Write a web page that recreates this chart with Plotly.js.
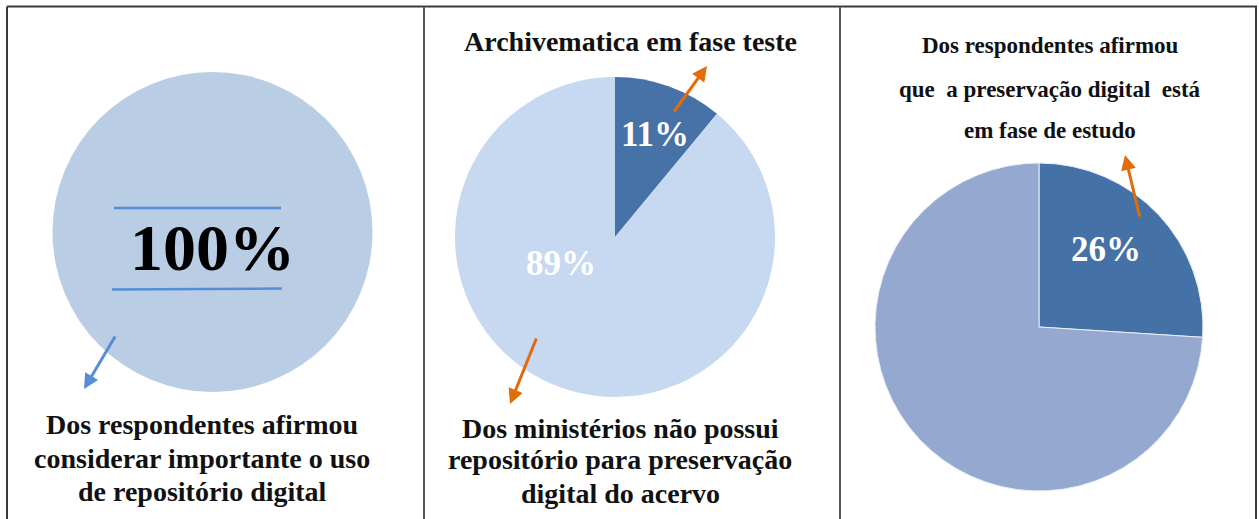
<!DOCTYPE html>
<html>
<head>
<meta charset="utf-8">
<script src="https://cdn.plot.ly/plotly-3.0.1.min.js"></script>
<style>html,body{margin:0;padding:0;background:#fff;}#chart{width:1259px;height:519px;}</style>
</head>
<body>
<div id="chart"></div>
<script>
// ---- data ----
const pie1Labels = ["Considera importante"];
const pie1Values = [100];
const pie2Labels = ["Archivematica em fase teste", "Não possui repositório"];
const pie2Values = [11, 89];
const pie3Labels = ["Em fase de estudo", "Outros"];
const pie3Values = [26, 74];
const text1 = ["Dos respondentes afirmou", "considerar importante o uso", "de repositório digital"];
const title2 = "Archivematica em fase teste";
const text2 = ["Dos ministérios não possui", "repositório para preservação", "digital do acervo"];
const title3 = ["Dos respondentes afirmou", "que  a preservação digital  está", "em fase de estudo"];

const W = 1259, H = 519;
const px = x => x / W;
const py = y => 1 - y / H;
const dom = (cx, cy, r) => ({x: [px(cx - r), px(cx + r)], y: [py(cy + r), py(cy - r)]});
const serif = "'Liberation Serif', 'DejaVu Serif', serif";

const traces = [
  {type: "pie", labels: pie1Labels, values: pie1Values, sort: false, direction: "clockwise",
   marker: {colors: ["#B9CDE5"], line: {width: 0}}, textinfo: "none", hoverinfo: "none",
   domain: dom(212.5, 232, 160), showlegend: false},
  {type: "pie", labels: pie2Labels, values: pie2Values, sort: false, direction: "clockwise", rotation: 0,
   marker: {colors: ["#4672A8", "#C6D9F1"], line: {width: 0}}, textinfo: "none", hoverinfo: "none",
   domain: dom(615, 237, 160), showlegend: false},
  {type: "pie", labels: pie3Labels, values: pie3Values, sort: false, direction: "clockwise", rotation: 0,
   marker: {colors: ["#4472A7", "#95A9D0"], line: {width: 1, color: "#E8EEF7"}}, textinfo: "none", hoverinfo: "none",
   domain: dom(1039, 327, 164), showlegend: false}
];

const ann = [];
function txt(t, x, y, size, color) {
  ann.push({text: "<b>" + t + "</b>", x: px(x), y: py(y), xref: "paper", yref: "paper",
    xanchor: "center", yanchor: "middle", showarrow: false,
    font: {family: serif, size: size, color: color || "#111"}});
}
function arrow(tx, ty, hx, hy, color) {
  ann.push({text: "", x: px(hx), y: py(hy), xref: "paper", yref: "paper",
    ax: tx - hx, ay: ty - hy, showarrow: true, arrowhead: 2, arrowsize: 1, arrowwidth: 3,
    arrowcolor: color});
}
// panel 1
txt(pie1Values[0] + "%", 212.5, 247, 66, "#000");
text1.forEach((t, i) => txt(t, 202, [424, 458, 491][i], 28));
arrow(116, 335, 84, 389, "#558ED5");
// panel 2
txt(title2, 630, 41, 28);
txt(pie2Values[0] + "%", 655, 135, 35, "#fff");
txt(pie2Values[1] + "%", 561, 263, 35, "#fff");
text2.forEach((t, i) => txt(t, 620, [428, 459, 493][i], 28));
arrow(673, 113, 707, 66, "#E36C09");
arrow(537, 337, 510, 404, "#E36C09");
// panel 3
title3.forEach((t, i) => txt(t, 1050, [45, 89, 130][i], 23));
txt(pie3Values[0] + "%", 1106, 250, 35, "#fff");
arrow(1140, 218, 1125, 155, "#E36C09");

const line = (x0, y0, x1, y1, color, w) => ({type: "line", xref: "paper", yref: "paper",
  x0: px(x0), y0: py(y0), x1: px(x1), y1: py(y1), line: {color: color, width: w}});
const shapes = [
  line(7, 6.5, 1257, 6.5, "#3a3a3a", 2),
  line(7, 6.5, 7, 519, "#3a3a3a", 2),
  line(424, 6.5, 424, 519, "#555", 2),
  line(840, 6.5, 840, 519, "#555", 2),
  line(1256, 6.5, 1256, 519, "#3a3a3a", 2),
  line(114, 208, 281, 208, "#558ED5", 2.5),
  line(112, 289.5, 282, 288.5, "#558ED5", 2.5)
];

const layout = {width: W, height: H, margin: {l: 0, r: 0, t: 0, b: 0},
  paper_bgcolor: "#fff", plot_bgcolor: "#fff", showlegend: false,
  annotations: ann, shapes: shapes};
Plotly.newPlot("chart", traces, layout, {displayModeBar: false, staticPlot: true});
</script>
</body>
</html>
